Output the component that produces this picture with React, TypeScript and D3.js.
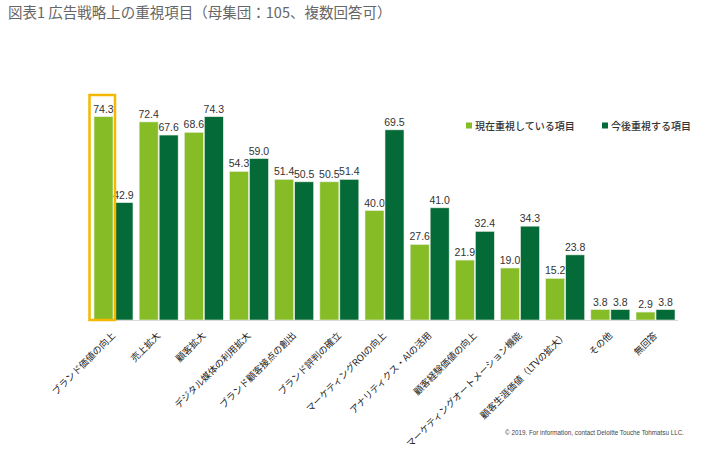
import React from "react";
import * as d3 from "d3";

const categories = [
  "ブランド価値の向上",
  "売上拡大",
  "顧客拡大",
  "デジタル媒体の利用拡大",
  "ブランド顧客接点の創出",
  "ブランド評判の確立",
  "マーケティングROIの向上",
  "アナリティクス・AIの活用",
  "顧客経験価値の向上",
  "マーケティングオートメーション機能",
  "顧客生涯価値（LTVの拡大）",
  "その他",
  "無回答",
];
const currentValues = [74.3, 72.4, 68.6, 54.3, 51.4, 50.5, 40.0, 27.6, 21.9, 19.0, 15.2, 3.8, 2.9];
const futureValues = [42.9, 67.6, 74.3, 59.0, 50.5, 51.4, 69.5, 41.0, 32.4, 34.3, 23.8, 3.8, 3.8];
const seriesNames = ["現在重視している項目", "今後重視する項目"];
const title = "図表1 広告戦略上の重視項目（母集団：105、複数回答可）";
const credit = "© 2019. For information, contact Deloitte Touche Tohmatsu LLC.";

const W = 721;
const H = 457;
const LIGHT = "#86bc25";
const DARK = "#046a38";
const CJK = "'Noto Sans CJK JP', 'Noto Sans', sans-serif";
const NUM = "'Liberation Sans', Arial, sans-serif";

export default function App() {
  const x = d3.scaleBand<string>().domain(categories).range([94, 675]).paddingInner(0.137).paddingOuter(0);
  const sub = d3.scaleBand<string>().domain(["c", "f"]).range([0, x.bandwidth()]).paddingInner(0.05);
  const y = d3.scaleLinear().domain([0, 100]).range([320, 46.4]);
  const series = [
    { key: "c", values: currentValues, color: LIGHT },
    { key: "f", values: futureValues, color: DARK },
  ];
  const first = categories[0];
  return (
    <svg width={W} height={H} style={{ position: "absolute", left: 0, top: 0, background: "#fff" }}>
      <text x={8} y={18} fontSize={14.5} fill="#666" fontFamily={CJK}>{title}</text>
      {series.map((s) =>
        categories.map((c, i) => {
          const bx = (x(c) as number) + (sub(s.key) as number);
          const v = s.values[i];
          return (
            <g key={s.key + i}>
              <rect x={bx} y={y(v)} width={sub.bandwidth()} height={y(0) - y(v)} fill={s.color} stroke="#e6efe0" strokeWidth={0.6} />
              <text x={bx + sub.bandwidth() / 2} y={y(v) - 4} fontSize={10.5} textAnchor="middle" fill="#333" fontFamily={NUM}>
                {v.toFixed(1)}
              </text>
            </g>
          );
        })
      )}
      <line x1={88} x2={678} y1={y(0) + 0.5} y2={y(0) + 0.5} stroke="#d9d9d9" strokeWidth={1} />
      <rect
        x={(x(first) as number) - 4.5}
        y={95}
        width={sub.bandwidth() + 6.5}
        height={y(0) - 95}
        fill="none"
        stroke="#f5b800"
        strokeWidth={2.5}
      />
      {categories.map((c, i) => {
        const cx = (x(c) as number) + x.bandwidth() / 2 + 2.5;
        return (
          <text
            key={"lbl" + i}
            transform={`translate(${cx},${336}) rotate(-45)`}
            textAnchor="end"
            fontSize={9.4}
            fill="#222"
            fontFamily={CJK}
          >
            {c}
          </text>
        );
      })}
      {series.map((s, i) => {
        const lx = i === 0 ? 466 : 602;
        return (
          <g key={"leg" + i}>
            <rect x={lx} y={122.5} width={6} height={6} fill={s.color} />
            <text x={lx + 9} y={129.5} fontSize={10} fill="#333" fontFamily={CJK} fontWeight={500}>
              {seriesNames[i]}
            </text>
          </g>
        );
      })}
      <text x={505} y={435} fontSize={6.3} fill="#444" fontFamily={NUM}>{credit}</text>
    </svg>
  );
}
